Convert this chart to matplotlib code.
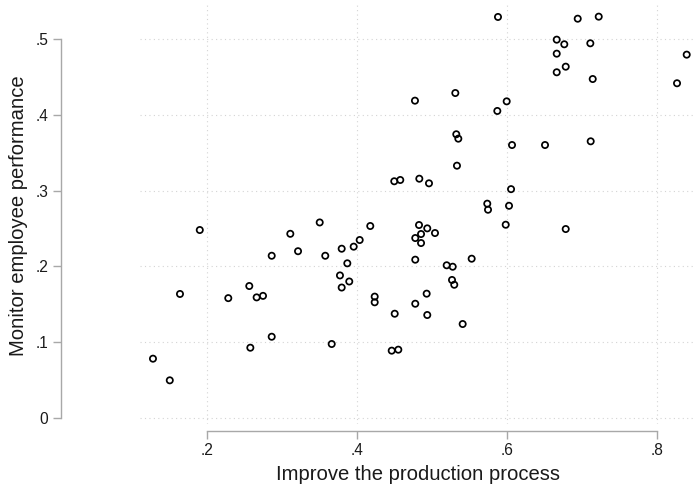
import numpy as np
import matplotlib
matplotlib.use('Agg')
import matplotlib.pyplot as plt
from matplotlib.ticker import FuncFormatter

plt.rcParams['font.family'] = ['Liberation Sans', 'DejaVu Sans']

# share of firms: improve production process vs monitor employee performance
improve = [0.1276, 0.150, 0.1636, 0.190, 0.228, 0.256, 0.2658, 0.2743, 0.2859, 0.2574,
           0.2859, 0.3107, 0.321, 0.3499, 0.3573, 0.3792, 0.3867, 0.3769, 0.3893, 0.3792,
           0.3659, 0.3952, 0.4032, 0.4173, 0.4232, 0.4232, 0.4499, 0.4459, 0.4547, 0.4493,
           0.4573, 0.4827, 0.4956, 0.4823, 0.4933, 0.5036, 0.4773, 0.485, 0.485, 0.4773,
           0.5192, 0.5272, 0.5263, 0.5293, 0.5525, 0.4925, 0.4773, 0.4933, 0.5405, 0.4769,
           0.5307, 0.5992, 0.5867, 0.532, 0.5347, 0.5329, 0.6063, 0.6503, 0.7112, 0.605,
           0.5733, 0.5743, 0.6023, 0.5979, 0.6779, 0.5876, 0.6939, 0.7219, 0.6659, 0.676,
           0.7107, 0.6659, 0.6779, 0.6659, 0.7139, 0.8392, 0.8263]
monitor = [0.078, 0.0494, 0.1635, 0.248, 0.158, 0.174, 0.159, 0.161, 0.214, 0.0925,
           0.107, 0.243, 0.220, 0.258, 0.214, 0.2233, 0.204, 0.188, 0.180, 0.172,
           0.0974, 0.226, 0.2348, 0.2533, 0.160, 0.1525, 0.1374, 0.0886, 0.0899, 0.3124,
           0.3141, 0.3158, 0.3097, 0.2546, 0.2502, 0.244, 0.2374, 0.2427, 0.2308, 0.2088,
           0.2014, 0.1995, 0.182, 0.1757, 0.2101, 0.1639, 0.1506, 0.1357, 0.1238, 0.4189,
           0.429, 0.418, 0.4053, 0.3745, 0.3687, 0.333, 0.3603, 0.3603, 0.3652, 0.302,
           0.2828, 0.2748, 0.280, 0.255, 0.2493, 0.5295, 0.5272, 0.5299, 0.4995, 0.4934,
           0.4947, 0.481, 0.4638, 0.4564, 0.4475, 0.4797, 0.4419]

xticks = [0.2, 0.4, 0.6, 0.8]
yticks = [0, 0.1, 0.2, 0.3, 0.4, 0.5]

W, H = 696, 486
fig = plt.figure(figsize=(W / 100, H / 100), dpi=100)
ax = fig.add_axes([140 / W, 1 - 424 / H, 556 / W, 419 / H])

grey = '#a8a8a8'
for s in ['top', 'right']:
    ax.spines[s].set_visible(False)
ax.spines['left'].set_position(('outward', 57))
ax.spines['bottom'].set_position(('outward', 5))
ax.spines['left'].set_bounds(0, 0.5)
ax.spines['bottom'].set_bounds(0.2, 0.8)
for s in ['left', 'bottom']:
    ax.spines[s].set_color(grey)
    ax.spines[s].set_linewidth(1.0)

ax.set_xlim(0.1103, 0.8516)
ax.set_ylim(-0.0083, 0.5453)
ax.set_xticks(xticks)
ax.set_yticks(yticks)

fmt = FuncFormatter(lambda v, p: '0' if abs(v) < 1e-9 else ('%.1f' % v).lstrip('0'))
ax.xaxis.set_major_formatter(fmt)
ax.yaxis.set_major_formatter(fmt)
ax.tick_params(axis='both', colors=grey, labelcolor='#1a1a1a', labelsize=11.2,
               length=5.5, width=1.0, pad=3.5)

ax.grid(True, color='#d4d4d4', linestyle=(0, (1, 3)), linewidth=0.8)
ax.set_axisbelow(True)

ax.scatter(improve, monitor, s=20, facecolors='none', edgecolors='black',
           linewidths=1.25, zorder=3, clip_on=False)

fig.text(418 / W, 1 - 474 / H, 'Improve the production process',
         ha='center', va='center', fontsize=14.6, color='#1a1a1a')
fig.text(19 / W, 1 - 216 / H, 'Monitor employee performance', rotation=90,
         ha='center', va='center', fontsize=14.6, color='#1a1a1a')

fig.savefig('out.png', dpi=100)
